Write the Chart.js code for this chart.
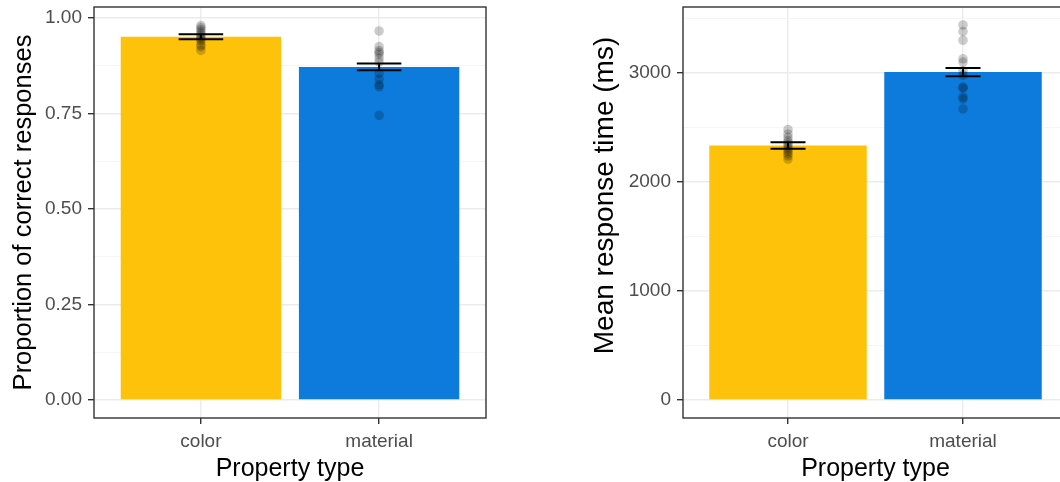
<!DOCTYPE html>
<html>
<head>
<meta charset="utf-8">
<script src="https://cdn.jsdelivr.net/npm/chart.js@4/dist/chart.umd.min.js"></script>
<style>
  html, body { margin: 0; padding: 0; background: #ffffff; overflow: hidden; }
  body { width: 1060px; height: 482px; position: relative; }
  canvas { position: absolute; top: 0; }
  #accChart { left: 0; }
  #rtChart { left: 580px; }
</style>
</head>
<body>
<canvas id="accChart" width="500" height="482"></canvas>
<canvas id="rtChart" width="500" height="482"></canvas>
<script>
// categories on the x axis
const categories = ['color', 'material'];
const barColors = ['#FFC20A', '#0C7BDC'];

// left panel: proportion correct
const accMeans = [0.951, 0.872];
const accSE = [0.0065, 0.0090];
const accColorPoints = [0.980, 0.975, 0.970, 0.965, 0.960, 0.955, 0.950, 0.945, 0.940, 0.930, 0.925, 0.915];
const accMaterialPoints = [0.966, 0.925, 0.915, 0.910, 0.905, 0.895, 0.885, 0.855, 0.840, 0.825, 0.820, 0.745];
const accMajorTicks = [0, 0.25, 0.5, 0.75, 1];
const accTickLabels = ['0.00', '0.25', '0.50', '0.75', '1.00'];
const accMinorTicks = [0.125, 0.375, 0.625, 0.875];

// right panel: response time
const rtMeans = [2335, 3008];
const rtSE = [30, 38];
const rtColorPoints = [2480, 2440, 2410, 2380, 2360, 2340, 2320, 2300, 2280, 2260, 2240, 2210];
const rtMaterialPoints = [3440, 3380, 3300, 3130, 3100, 3020, 2980, 2870, 2860, 2780, 2760, 2670];
const rtMajorTicks = [0, 1000, 2000, 3000];
const rtTickLabels = ['0', '1000', '2000', '3000'];
const rtMinorTicks = [500, 1500, 2500, 3500];

const FONT = "'Liberation Sans', Arial, Helvetica, sans-serif";

// panel border, mean +/- se error bars and the rotated y title
const panelPlugin = {
    id: 'panelExtras',
    afterDatasetsDraw(chart) {
        const opts = chart.options.plugins.panelExtras;
        const { ctx } = chart;
        const xs = chart.scales.x;
        const ys = chart.scales.y;
        ctx.save();
        ctx.strokeStyle = '#000000';
        ctx.lineWidth = 2;
        opts.means.forEach((m, i) => {
            const cx = xs.getPixelForValue(i + 1);
            const hw = xs.getPixelForValue(i + 1 + opts.barHalfWidth) - cx;
            const yTop = ys.getPixelForValue(m + opts.se[i]);
            const yBot = ys.getPixelForValue(m - opts.se[i]);
            ctx.beginPath();
            ctx.moveTo(cx - hw, yTop); ctx.lineTo(cx + hw, yTop);
            ctx.moveTo(cx - hw, yBot); ctx.lineTo(cx + hw, yBot);
            ctx.moveTo(cx, yTop); ctx.lineTo(cx, yBot);
            ctx.stroke();
        });
        ctx.restore();
    },
    afterDraw(chart) {
        const opts = chart.options.plugins.panelExtras;
        const { ctx, chartArea: a } = chart;
        ctx.save();
        ctx.strokeStyle = '#333333';
        ctx.lineWidth = 1.4;
        ctx.strokeRect(a.left, a.top, a.right - a.left, a.bottom - a.top);

        // y axis title
        ctx.translate(opts.titleX, (a.top + a.bottom) / 2 + opts.titleShift);
        ctx.rotate(-Math.PI / 2);
        ctx.fillStyle = '#000000';
        ctx.font = opts.titleSize + 'px ' + FONT;
        ctx.textAlign = 'center';
        ctx.textBaseline = 'alphabetic';
        ctx.fillText(opts.title, 0, 0);
        ctx.restore();
    }
};

function makePanel(canvasId, p) {
    const isMajor = v => p.majors.some(t => Math.abs(t - v) < 1e-9);
    const barData = p.means.map((m, i) => ({ x: i + 1, y: m }));
    const pointsData = [
        ...p.colorPoints.map(v => ({ x: 1, y: v })),
        ...p.materialPoints.map(v => ({ x: 2, y: v }))
    ];

    return new Chart(document.getElementById(canvasId), {
        type: 'bar',
        data: {
            datasets: [{
                type: 'scatter',
                data: pointsData,
                backgroundColor: 'rgba(0,0,0,0.2)',
                borderWidth: 0,
                pointRadius: 4.8,
                order: 1
            }, {
                type: 'bar',
                data: barData,
                backgroundColor: barColors,
                borderWidth: 0,
                barPercentage: 0.9,
                categoryPercentage: 1.0,
                order: 2
            }]
        },
        options: {
            responsive: false,
            animation: false,
            devicePixelRatio: 1,
            layout: { padding: { top: 7, right: p.rightPad, bottom: 0, left: 0 } },
            plugins: {
                legend: { display: false },
                tooltip: { enabled: false },
                panelExtras: {
                    means: p.means, se: p.se, barHalfWidth: p.errHalfWidth,
                    title: p.yTitle, titleX: p.titleX, titleSize: p.titleSize, titleShift: p.titleShift
                }
            },
            scales: {
                x: {
                    type: 'linear',
                    min: 0.4,
                    max: 2.6,
                    offset: false,
                    afterBuildTicks: s => { s.ticks = categories.map((c, i) => ({ value: i + 1 })); },
                    afterFit: s => {
                        s.height = 64;
                        s.paddingLeft = 0;
                        s.paddingRight = 0;
                    },
                    ticks: {
                        autoSkip: false,
                        maxRotation: 0,
                        minRotation: 0,
                        padding: 6,
                        color: '#4d4d4d',
                        font: { family: FONT, size: 19 },
                        callback: v => categories[Math.round(v) - 1]
                    },
                    grid: {
                        offset: false,
                        color: '#ebebeb',
                        lineWidth: 1.4,
                        tickLength: 6,
                        tickColor: '#333333',
                        tickWidth: 1.4
                    },
                    border: { display: false },
                    title: {
                        display: true,
                        text: 'Property type',
                        color: '#000000',
                        font: { family: FONT, size: 25, lineHeight: 1 },
                        padding: { top: 0, bottom: 0 }
                    }
                },
                y: {
                    type: 'linear',
                    min: p.yMin,
                    max: p.yMax,
                    afterBuildTicks: s => {
                        s.ticks = [...p.majors, ...p.minors].sort((a, b) => a - b).map(v => ({ value: v }));
                    },
                    afterFit: s => {
                        s.width = p.yAxisWidth;
                        s.paddingTop = 0;
                        s.paddingBottom = 0;
                    },
                    ticks: {
                        autoSkip: false,
                        padding: 6,
                        color: '#4d4d4d',
                        font: { family: FONT, size: 19 },
                        callback: v => {
                            const k = p.majors.findIndex(t => Math.abs(t - v) < 1e-9);
                            return k >= 0 ? p.labels[k] : '';
                        }
                    },
                    grid: {
                        color: ctx => isMajor(ctx.tick.value) ? '#ebebeb' : '#f3f3f3',
                        lineWidth: ctx => isMajor(ctx.tick.value) ? 1.4 : 0.8,
                        tickLength: 6,
                        tickColor: ctx => isMajor(ctx.tick.value) ? '#333333' : 'rgba(0,0,0,0)',
                        tickWidth: 1.4
                    },
                    border: { display: false },
                    title: { display: false }
                }
            }
        },
        plugins: [panelPlugin]
    });
}

makePanel('accChart', {
    means: accMeans, se: accSE,
    colorPoints: accColorPoints, materialPoints: accMaterialPoints,
    majors: accMajorTicks, labels: accTickLabels, minors: accMinorTicks,
    yMin: -0.0471, yMax: 1.0288,
    yTitle: 'Proportion of correct responses',
    yAxisWidth: 94, rightPad: 14, errHalfWidth: 0.125,
    titleX: 31, titleSize: 25.5, titleShift: 0
});

makePanel('rtChart', {
    means: rtMeans, se: rtSE,
    colorPoints: rtColorPoints, materialPoints: rtMaterialPoints,
    majors: rtMajorTicks, labels: rtTickLabels, minors: rtMinorTicks,
    yMin: -165, yMax: 3605,
    yTitle: 'Mean response time (ms)',
    yAxisWidth: 103, rightPad: 12, errHalfWidth: 0.1,
    titleX: 33, titleSize: 28, titleShift: -17
});
</script>
</body>
</html>
